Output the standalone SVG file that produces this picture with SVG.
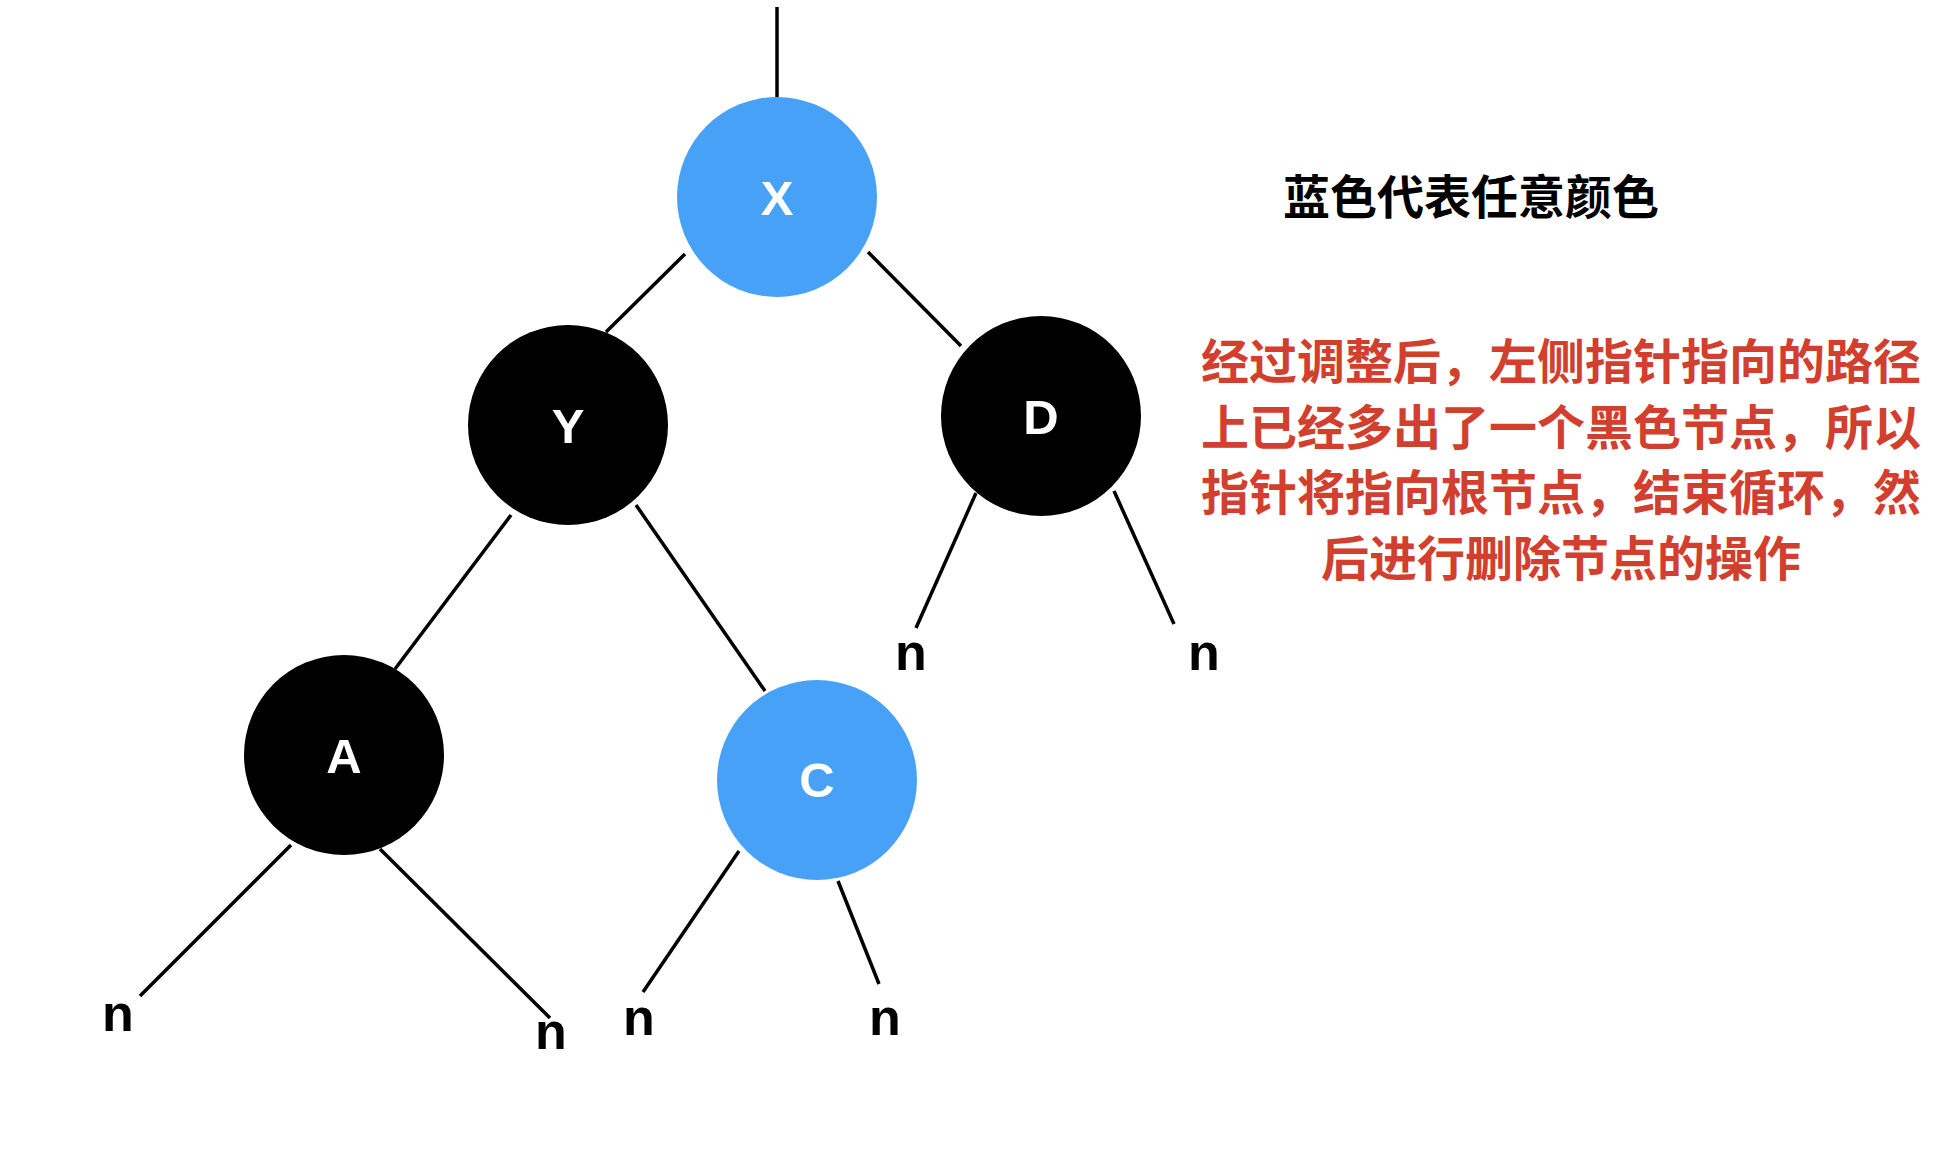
<svg xmlns="http://www.w3.org/2000/svg" width="1952" height="1156" viewBox="0 0 1952 1156">
<style>
.edge{stroke:#000;stroke-width:3.5;fill:none}
.blue{fill:#47A2F7}
.black{fill:#000}
.lbl{font-family:"Liberation Sans",Arial,sans-serif;font-weight:bold;font-size:49px;fill:#fff;text-anchor:middle}
.nil{font-family:"Liberation Sans",Arial,sans-serif;font-weight:bold;font-size:52px;fill:#000;text-anchor:middle}
.title{font-family:"Noto Sans CJK SC",sans-serif;font-weight:700;font-size:47px;fill:#000;text-anchor:middle}
.note{font-family:"Noto Sans CJK SC",sans-serif;font-weight:700;font-size:48px;fill:#D23F2E;text-anchor:middle}
</style>
<rect width="1952" height="1156" fill="#fff"/>
<g id="connectors">
<line class="edge" x1="777" y1="7" x2="777" y2="102"/>
<line class="edge" x1="685" y1="254" x2="606" y2="332"/>
<line class="edge" x1="868" y1="252" x2="961" y2="346"/>
<line class="edge" x1="511" y1="515" x2="395" y2="669"/>
<line class="edge" x1="636" y1="505" x2="765" y2="691"/>
<line class="edge" x1="976" y1="493" x2="916" y2="628"/>
<line class="edge" x1="1114" y1="491" x2="1174" y2="624"/>
<line class="edge" x1="291" y1="845" x2="140" y2="996"/>
<line class="edge" x1="380" y1="849" x2="550" y2="1018"/>
<line class="edge" x1="739" y1="851" x2="643" y2="992"/>
<line class="edge" x1="838" y1="881" x2="879" y2="984"/>
</g>
<g id="node-X"><circle class="blue" cx="777" cy="197" r="100"/><text class="lbl" x="777" y="215">X</text></g>
<g id="node-Y"><circle class="black" cx="568" cy="425" r="100"/><text class="lbl" x="568" y="443">Y</text></g>
<g id="node-D"><circle class="black" cx="1041" cy="416" r="100"/><text class="lbl" x="1041" y="434">D</text></g>
<g id="node-A"><circle class="black" cx="344" cy="755" r="100"/><text class="lbl" x="344" y="773">A</text></g>
<g id="node-C"><circle class="blue" cx="817" cy="780" r="100"/><text class="lbl" x="817" y="797">C</text></g>
<g id="nil-1"><text class="nil" x="118" y="1031">n</text></g>
<g id="nil-2"><text class="nil" x="551" y="1049">n</text></g>
<g id="nil-3"><text class="nil" x="639" y="1035">n</text></g>
<g id="nil-4"><text class="nil" x="885" y="1035">n</text></g>
<g id="nil-5"><text class="nil" x="911" y="670">n</text></g>
<g id="nil-6"><text class="nil" x="1204" y="670">n</text></g>
<g id="legend"><text class="title" x="1471" y="214">蓝色代表任意颜色</text></g>
<g id="note">
<text class="note" x="1561" y="379">经过调整后，左侧指针指向的路径</text>
<text class="note" x="1561" y="444.5">上已经多出了一个黑色节点，所以</text>
<text class="note" x="1561" y="510">指针将指向根节点，结束循环，然</text>
<text class="note" x="1561" y="575.5">后进行删除节点的操作</text>
</g>
</svg>
